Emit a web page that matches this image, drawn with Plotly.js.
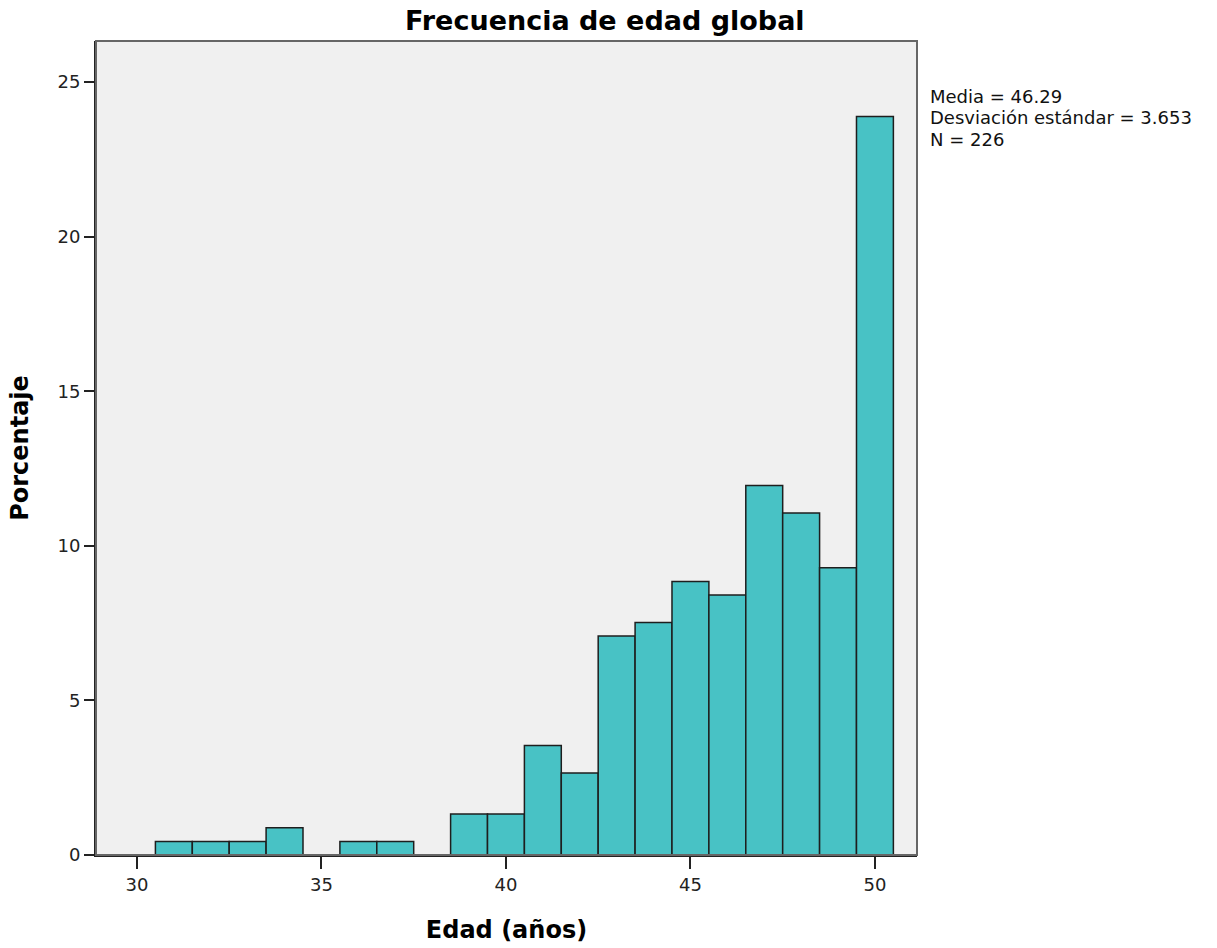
<!DOCTYPE html>
<html>
<head>
<meta charset="utf-8">
<script src="https://cdn.plot.ly/plotly-3.0.1.min.js"></script>
<style>html,body{margin:0;padding:0;background:#fff;}#chart{width:1217px;height:948px;}</style>
</head>
<body>
<div id="chart"></div>
<script>
// Ages (bin centres, years) and percentage of cases
const ages = [31, 32, 33, 34, 35, 36, 37, 38, 39, 40, 41, 42, 43, 44, 45, 46, 47, 48, 49, 50];
const percentages = [0.44, 0.44, 0.44, 0.88, 0, 0.44, 0.44, 0, 1.33, 1.33, 3.54, 2.65, 7.08, 7.52, 8.85, 8.41, 11.95, 11.06, 9.29, 23.89];
const xTicks = [30, 35, 40, 45, 50];
const yTicks = [0, 5, 10, 15, 20, 25];
const statsLines = ["Media = 46.29", "Desviación estándar = 3.653", "N = 226"];

const font = "DejaVu Sans, Verdana, sans-serif";

const trace = {
  type: "bar",
  x: ages,
  y: percentages,
  width: 1,
  marker: { color: "#48C2C5", line: { color: "#1e1e1e", width: 1.5 } },
  hoverinfo: "x+y"
};

const annotations = statsLines.map((t, i) => ({
  xref: "paper", yref: "paper", x: 1.014, y: 0.932 - i * 0.0265,
  xanchor: "left", yanchor: "middle", align: "left", showarrow: false,
  text: t,
  font: { family: font, size: 18, color: "#111" }
}));

const layout = {
  width: 1217,
  height: 948,
  margin: { l: 96, r: 300, t: 41, b: 93 },
  paper_bgcolor: "#ffffff",
  plot_bgcolor: "#F0F0F0",
  showlegend: false,
  title: {
    text: "<b>Frecuencia de edad global</b>",
    font: { family: font, size: 27, color: "#000" },
    x: 0.497, xanchor: "center", y: 0.978, yanchor: "middle"
  },
  xaxis: {
    range: [28.89, 51.14],
    tickvals: xTicks,
    ticktext: xTicks.map(String),
    ticks: "outside", ticklen: 12, tickwidth: 2, tickcolor: "#222",
    showgrid: false, zeroline: false,
    showline: true, linecolor: "#222", linewidth: 2,
    tickfont: { family: font, size: 18, color: "#222" },
    title: { text: "<b>Edad (años)</b>", font: { family: font, size: 24, color: "#000" }, standoff: 28 }
  },
  yaxis: {
    range: [0, 26.33],
    tickvals: yTicks,
    ticktext: yTicks.map(String),
    ticks: "outside", ticklen: 10, tickwidth: 2, tickcolor: "#222",
    showgrid: false, zeroline: false,
    showline: true, linecolor: "#222", linewidth: 2,
    tickfont: { family: font, size: 18, color: "#222" },
    title: { text: "<b>Porcentaje</b>", font: { family: font, size: 24, color: "#000" }, standoff: 22 }
  },
  shapes: [{
    type: "rect", xref: "paper", yref: "paper", x0: 0, x1: 1, y0: 0, y1: 1,
    line: { color: "#666", width: 2 }, layer: "above", fillcolor: "rgba(0,0,0,0)"
  }],
  annotations: annotations
};

Plotly.newPlot("chart", [trace], layout, { displayModeBar: false, staticPlot: true });
</script>
</body>
</html>
